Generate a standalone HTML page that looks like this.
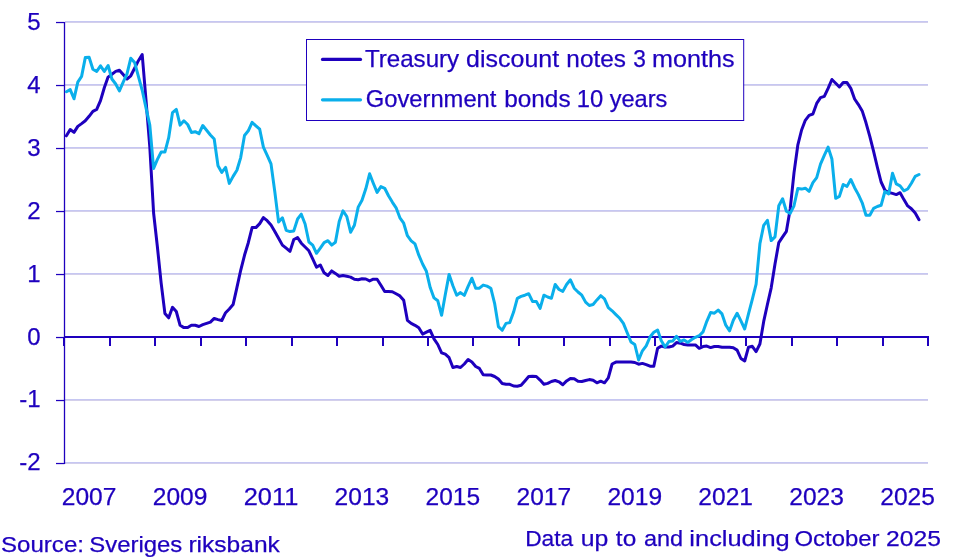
<!DOCTYPE html>
<html lang="en"><head><meta charset="utf-8"><title>Interest rates</title>
<style>
html,body{margin:0;padding:0;background:#fff;}
svg{display:block;font-family:"Liberation Sans",Arial,sans-serif;}
text{fill:#1E00BE;stroke:#1E00BE;stroke-width:0.25px;}
</style></head><body>
<svg width="965" height="557" viewBox="0 0 965 557">
<rect width="965" height="557" fill="#fff"/>

<rect x="65" y="21" width="863" height="1" fill="#C6C7F2"/>
<rect x="65" y="22" width="863" height="1" fill="#D3CFEB"/>
<rect x="65" y="84" width="863" height="1" fill="#C6C7F2"/>
<rect x="65" y="85" width="863" height="1" fill="#D3CFEB"/>
<rect x="65" y="147" width="863" height="1" fill="#C6C7F2"/>
<rect x="65" y="148" width="863" height="1" fill="#D3CFEB"/>
<rect x="65" y="210" width="863" height="1" fill="#C6C7F2"/>
<rect x="65" y="211" width="863" height="1" fill="#D3CFEB"/>
<rect x="65" y="273" width="863" height="1" fill="#C6C7F2"/>
<rect x="65" y="274" width="863" height="1" fill="#D3CFEB"/>
<rect x="65" y="399" width="863" height="1" fill="#C6C7F2"/>
<rect x="65" y="400" width="863" height="1" fill="#D3CFEB"/>
<rect x="65" y="462" width="863" height="1" fill="#C6C7F2"/>
<rect x="65" y="463" width="863" height="1" fill="#D3CFEB"/>
<rect x="63.85" y="22" width="1.3" height="442" fill="#1E00BE"/>
<rect x="56" y="21.9" width="8.5" height="1.25" fill="#1E00BE"/>
<text x="40.6" y="29.7" font-size="24" text-anchor="end">5</text>
<rect x="56" y="84.9" width="8.5" height="1.25" fill="#1E00BE"/>
<text x="40.6" y="92.7" font-size="24" text-anchor="end">4</text>
<rect x="56" y="147.9" width="8.5" height="1.25" fill="#1E00BE"/>
<text x="40.6" y="155.7" font-size="24" text-anchor="end">3</text>
<rect x="56" y="210.9" width="8.5" height="1.25" fill="#1E00BE"/>
<text x="40.6" y="218.7" font-size="24" text-anchor="end">2</text>
<rect x="56" y="273.9" width="8.5" height="1.25" fill="#1E00BE"/>
<text x="40.6" y="281.7" font-size="24" text-anchor="end">1</text>
<rect x="56" y="336.9" width="8.5" height="1.25" fill="#1E00BE"/>
<text x="40.6" y="344.7" font-size="24" text-anchor="end">0</text>
<rect x="56" y="399.9" width="8.5" height="1.25" fill="#1E00BE"/>
<text x="40.6" y="406.7" font-size="24" text-anchor="end">-1</text>
<rect x="56" y="462.9" width="8.5" height="1.25" fill="#1E00BE"/>
<text x="40.6" y="469.7" font-size="24" text-anchor="end">-2</text>
<rect x="64" y="336" width="865" height="2" fill="#1E00BE"/>
<rect x="63" y="337" width="2" height="9" fill="#1E00BE"/>
<rect x="109" y="337" width="2" height="9" fill="#1E00BE"/>
<rect x="154" y="337" width="2" height="9" fill="#1E00BE"/>
<rect x="200" y="337" width="2" height="9" fill="#1E00BE"/>
<rect x="245" y="337" width="2" height="9" fill="#1E00BE"/>
<rect x="291" y="337" width="2" height="9" fill="#1E00BE"/>
<rect x="336" y="337" width="2" height="9" fill="#1E00BE"/>
<rect x="382" y="337" width="2" height="9" fill="#1E00BE"/>
<rect x="427" y="337" width="2" height="9" fill="#1E00BE"/>
<rect x="472" y="337" width="2" height="9" fill="#1E00BE"/>
<rect x="518" y="337" width="2" height="9" fill="#1E00BE"/>
<rect x="563" y="337" width="2" height="9" fill="#1E00BE"/>
<rect x="609" y="337" width="2" height="9" fill="#1E00BE"/>
<rect x="654" y="337" width="2" height="9" fill="#1E00BE"/>
<rect x="700" y="337" width="2" height="9" fill="#1E00BE"/>
<rect x="745" y="337" width="2" height="9" fill="#1E00BE"/>
<rect x="791" y="337" width="2" height="9" fill="#1E00BE"/>
<rect x="836" y="337" width="2" height="9" fill="#1E00BE"/>
<rect x="882" y="337" width="2" height="9" fill="#1E00BE"/>
<rect x="927" y="337" width="2" height="9" fill="#1E00BE"/>
<path d="M66.4,135.8 L70.2,129.5 L74.0,132.4 L77.8,126.4 L81.6,123.6 L85.3,120.7 L89.1,116.3 L92.9,111.3 L96.7,109.4 L100.5,100.6 L104.3,87.8 L108.1,77.1 L111.9,74.2 L115.7,71.4 L119.4,70.2 L123.2,74.6 L127.0,79.0 L130.8,75.8 L134.6,68.3 L138.4,60.7 L142.2,54.5 L146.0,100.0 L149.8,147.0 L153.6,213.0 L157.3,246.0 L161.1,282.6 L164.9,313.4 L168.7,317.8 L172.5,307.3 L176.3,311.5 L180.1,325.3 L183.9,327.6 L187.7,327.6 L191.4,325.3 L195.2,325.3 L199.0,326.5 L202.8,324.7 L206.6,323.4 L210.4,322.1 L214.2,318.4 L218.0,319.6 L221.8,320.5 L225.6,312.7 L229.3,309.0 L233.1,304.6 L236.9,287.6 L240.7,270.3 L244.5,255.3 L248.3,242.7 L252.1,227.6 L255.9,227.6 L259.7,223.6 L263.4,217.6 L267.2,220.7 L271.0,225.1 L274.8,231.4 L278.6,238.2 L282.4,245.1 L286.2,248.2 L290.0,251.4 L293.8,239.5 L297.6,237.6 L301.3,243.2 L305.1,247.0 L308.9,250.8 L312.7,258.9 L316.5,267.1 L320.3,265.0 L324.1,272.8 L327.9,275.5 L331.7,270.9 L335.4,273.4 L339.2,276.3 L343.0,275.5 L346.8,276.3 L350.6,277.1 L354.4,279.3 L358.2,279.7 L362.0,278.8 L365.8,279.0 L369.6,280.9 L373.3,279.2 L377.1,279.2 L380.9,285.2 L384.7,291.5 L388.5,291.5 L392.3,291.7 L396.1,293.8 L399.9,295.9 L403.7,300.3 L407.4,320.3 L411.2,323.4 L415.0,325.3 L418.8,327.8 L422.6,334.1 L426.4,332.2 L430.2,330.3 L434.0,338.8 L437.8,344.5 L441.6,352.9 L445.3,354.2 L449.1,357.7 L452.9,367.5 L456.7,366.5 L460.5,367.5 L464.3,364.0 L468.1,359.6 L471.9,362.1 L475.7,366.5 L479.4,368.4 L483.2,374.7 L487.0,375.0 L490.8,375.0 L494.6,376.5 L498.4,379.1 L502.2,383.5 L506.0,384.3 L509.8,384.3 L513.6,386.0 L517.3,386.2 L521.1,385.3 L524.9,380.9 L528.7,376.5 L532.5,376.2 L536.3,376.5 L540.1,380.1 L543.9,384.3 L547.7,383.4 L551.4,381.5 L555.2,380.5 L559.0,381.8 L562.8,384.7 L566.6,380.9 L570.4,378.4 L574.2,378.8 L578.0,381.3 L581.8,381.5 L585.6,380.5 L589.3,379.6 L593.1,380.3 L596.9,382.8 L600.7,381.2 L604.5,382.8 L608.3,377.8 L612.1,364.0 L615.9,362.1 L619.7,362.1 L623.4,362.1 L627.2,362.1 L631.0,362.1 L634.8,362.5 L638.6,364.2 L642.4,363.4 L646.2,364.6 L650.0,366.2 L653.8,366.2 L657.6,348.3 L661.3,346.1 L665.1,347.0 L668.9,347.0 L672.7,346.1 L676.5,342.6 L680.3,343.2 L684.1,344.5 L687.9,345.1 L691.7,345.1 L695.4,344.9 L699.2,348.3 L703.0,346.6 L706.8,346.1 L710.6,347.6 L714.4,346.5 L718.2,346.5 L722.0,347.2 L725.8,347.2 L729.6,347.2 L733.3,347.8 L737.1,350.1 L740.9,358.5 L744.7,361.0 L748.5,347.2 L752.3,346.3 L756.1,351.6 L759.9,344.0 L763.7,321.4 L767.4,304.5 L771.2,287.8 L775.0,264.0 L778.8,242.6 L782.6,236.9 L786.4,231.3 L790.2,209.0 L794.0,172.9 L797.8,145.2 L801.6,130.0 L805.3,120.3 L809.1,115.3 L812.9,114.0 L816.7,103.4 L820.5,97.7 L824.3,96.4 L828.1,88.3 L831.9,79.5 L835.7,83.2 L839.4,87.0 L843.2,82.6 L847.0,82.6 L850.8,88.3 L854.6,99.0 L858.4,104.6 L862.2,110.9 L866.0,122.8 L869.8,136.4 L873.6,151.3 L877.3,167.0 L881.1,182.0 L884.9,190.2 L888.7,192.5 L892.5,193.4 L896.3,194.6 L900.1,192.7 L903.9,199.6 L907.7,205.9 L911.4,208.8 L915.2,213.1 L919.0,219.7" fill="none" stroke="#1E00BE" stroke-width="3" stroke-linejoin="round" stroke-linecap="round"/>
<path d="M66.4,91.8 L70.2,89.6 L74.0,98.8 L77.8,82.1 L81.6,76.4 L85.3,57.6 L89.1,57.2 L92.9,69.2 L96.7,71.4 L100.5,65.8 L104.3,71.4 L108.1,65.5 L111.9,79.0 L115.7,84.0 L119.4,90.9 L123.2,82.1 L127.0,73.9 L130.8,58.2 L134.6,62.4 L138.4,76.4 L142.2,90.3 L146.0,107.9 L149.8,125.1 L153.6,168.5 L157.3,159.7 L161.1,152.1 L164.9,152.1 L168.7,137.7 L172.5,112.6 L176.3,109.4 L180.1,125.1 L183.9,120.8 L187.7,124.5 L191.4,132.4 L195.2,131.7 L199.0,133.7 L202.8,125.5 L206.6,130.2 L210.4,135.0 L214.2,139.0 L218.0,165.8 L221.8,172.4 L225.6,167.4 L229.3,183.4 L233.1,176.4 L236.9,170.2 L240.7,157.6 L244.5,135.5 L248.3,130.8 L252.1,122.4 L255.9,125.8 L259.7,129.2 L263.4,147.1 L267.2,155.3 L271.0,163.9 L274.8,191.7 L278.6,222.1 L282.4,217.8 L286.2,230.3 L290.0,231.6 L293.8,230.9 L297.6,219.0 L301.3,214.2 L305.1,224.0 L308.9,242.0 L312.7,245.1 L316.5,253.3 L320.3,248.2 L324.1,242.6 L327.9,240.7 L331.7,245.1 L335.4,242.3 L339.2,221.5 L343.0,210.8 L346.8,216.5 L350.6,232.2 L354.4,225.3 L358.2,207.1 L362.0,200.2 L365.8,188.8 L369.6,173.8 L373.3,183.2 L377.1,192.4 L380.9,186.6 L384.7,188.3 L388.5,195.8 L392.3,202.1 L396.1,207.8 L399.9,217.8 L403.7,223.2 L407.4,235.7 L411.2,240.8 L415.0,243.9 L418.8,255.2 L422.6,264.0 L426.4,271.3 L430.2,287.6 L434.0,297.9 L437.8,300.8 L441.6,315.3 L445.3,294.5 L449.1,274.4 L452.9,285.7 L456.7,295.2 L460.5,292.6 L464.3,295.4 L468.1,286.4 L471.9,278.2 L475.7,288.2 L479.4,288.2 L483.2,285.1 L487.0,286.1 L490.8,288.2 L494.6,303.3 L498.4,326.6 L502.2,330.3 L506.0,323.4 L509.8,322.6 L513.6,312.1 L517.3,298.3 L521.1,296.4 L524.9,295.2 L528.7,293.7 L532.5,301.4 L536.3,301.4 L540.1,308.4 L543.9,295.2 L547.7,297.0 L551.4,298.3 L555.2,284.5 L559.0,289.5 L562.8,291.4 L566.6,284.5 L570.4,279.8 L574.2,288.2 L578.0,292.0 L581.8,295.2 L585.6,302.1 L589.3,305.5 L593.1,304.5 L596.9,299.9 L600.7,295.7 L604.5,298.8 L608.3,307.6 L612.1,310.8 L615.9,314.6 L619.7,318.3 L623.4,323.4 L627.2,332.8 L631.0,342.0 L634.8,344.5 L638.6,360.0 L642.4,350.8 L646.2,345.8 L650.0,337.0 L653.8,332.3 L657.6,330.1 L661.3,340.7 L665.1,347.0 L668.9,341.6 L672.7,341.1 L676.5,336.3 L680.3,341.4 L684.1,339.9 L687.9,342.4 L691.7,339.5 L695.4,337.3 L699.2,335.7 L703.0,331.9 L706.8,321.3 L710.6,312.6 L714.4,313.2 L718.2,310.1 L722.0,313.9 L725.8,325.2 L729.6,330.8 L733.3,320.2 L737.1,313.2 L740.9,320.8 L744.7,329.0 L748.5,313.9 L752.3,299.4 L756.1,284.1 L759.9,243.8 L763.7,225.3 L767.4,220.3 L771.2,240.6 L775.0,236.9 L778.8,205.8 L782.6,198.7 L786.4,211.2 L790.2,213.4 L794.0,205.8 L797.8,188.6 L801.6,189.1 L805.3,188.2 L809.1,191.4 L812.9,182.6 L816.7,177.6 L820.5,164.1 L824.3,155.3 L828.1,147.1 L831.9,159.0 L835.7,198.3 L839.4,196.4 L843.2,184.5 L847.0,186.4 L850.8,179.5 L854.6,187.7 L858.4,194.6 L862.2,202.8 L866.0,215.3 L869.8,215.3 L873.6,208.4 L877.3,206.5 L881.1,205.3 L884.9,191.5 L888.7,194.0 L892.5,173.2 L896.3,183.9 L900.1,185.8 L903.9,190.8 L907.7,189.0 L911.4,183.3 L915.2,176.4 L919.0,174.5" fill="none" stroke="#0AAFEB" stroke-width="3" stroke-linejoin="round" stroke-linecap="round"/>
<rect x="306.5" y="39.5" width="437.2" height="81" fill="#fff" stroke="#1E00BE" stroke-width="1"/>
<line x1="322.5" y1="59.4" x2="360.5" y2="59.4" stroke="#1E00BE" stroke-width="3.2" stroke-linecap="round"/>
<line x1="322.5" y1="99.8" x2="360.5" y2="99.8" stroke="#0AAFEB" stroke-width="3.2" stroke-linecap="round"/>
<text y="66.7" font-size="23.6"><tspan x="364.94" textLength="94.25" lengthAdjust="spacingAndGlyphs">Treasury</tspan> <tspan x="466.14" textLength="92.98" lengthAdjust="spacingAndGlyphs">discount</tspan> <tspan x="566.39" textLength="59.50" lengthAdjust="spacingAndGlyphs">notes</tspan> <tspan x="633.31" textLength="12.63" lengthAdjust="spacingAndGlyphs">3</tspan> <tspan x="652.04" textLength="82.48" lengthAdjust="spacingAndGlyphs">months</tspan></text>
<text y="106.9" font-size="23.6"><tspan x="365.74" textLength="130.66" lengthAdjust="spacingAndGlyphs">Government</tspan> <tspan x="504.19" textLength="66.39" lengthAdjust="spacingAndGlyphs">bonds</tspan> <tspan x="576.77" textLength="26.45" lengthAdjust="spacingAndGlyphs">10</tspan> <tspan x="609.73" textLength="57.62" lengthAdjust="spacingAndGlyphs">years</tspan></text>
<text y="552.2" font-size="22.8"><tspan x="1.09" textLength="82.86" lengthAdjust="spacingAndGlyphs">Source:</tspan> <tspan x="89.29" textLength="93.05" lengthAdjust="spacingAndGlyphs">Sveriges</tspan> <tspan x="188.41" textLength="91.41" lengthAdjust="spacingAndGlyphs">riksbank</tspan></text>
<text y="545.9" font-size="22.8"><tspan x="525.19" textLength="48.08" lengthAdjust="spacingAndGlyphs">Data</tspan> <tspan x="580.82" textLength="27.60" lengthAdjust="spacingAndGlyphs">up</tspan> <tspan x="615.87" textLength="20.36" lengthAdjust="spacingAndGlyphs">to</tspan> <tspan x="644.00" textLength="39.19" lengthAdjust="spacingAndGlyphs">and</tspan> <tspan x="689.37" textLength="100.33" lengthAdjust="spacingAndGlyphs">including</tspan> <tspan x="794.53" textLength="85.07" lengthAdjust="spacingAndGlyphs">October</tspan> <tspan x="886.13" textLength="54.87" lengthAdjust="spacingAndGlyphs">2025</tspan></text>
<text x="61.80" y="505" font-size="24" textLength="54.6" lengthAdjust="spacingAndGlyphs">2007</text>
<text x="152.74" y="505" font-size="24" textLength="54.6" lengthAdjust="spacingAndGlyphs">2009</text>
<text x="243.68" y="505" font-size="24" textLength="54.6" lengthAdjust="spacingAndGlyphs">2011</text>
<text x="334.62" y="505" font-size="24" textLength="54.6" lengthAdjust="spacingAndGlyphs">2013</text>
<text x="425.56" y="505" font-size="24" textLength="54.6" lengthAdjust="spacingAndGlyphs">2015</text>
<text x="516.50" y="505" font-size="24" textLength="54.6" lengthAdjust="spacingAndGlyphs">2017</text>
<text x="607.44" y="505" font-size="24" textLength="54.6" lengthAdjust="spacingAndGlyphs">2019</text>
<text x="698.38" y="505" font-size="24" textLength="54.6" lengthAdjust="spacingAndGlyphs">2021</text>
<text x="789.32" y="505" font-size="24" textLength="54.6" lengthAdjust="spacingAndGlyphs">2023</text>
<text x="880.26" y="505" font-size="24" textLength="54.6" lengthAdjust="spacingAndGlyphs">2025</text>
</svg></body></html>
